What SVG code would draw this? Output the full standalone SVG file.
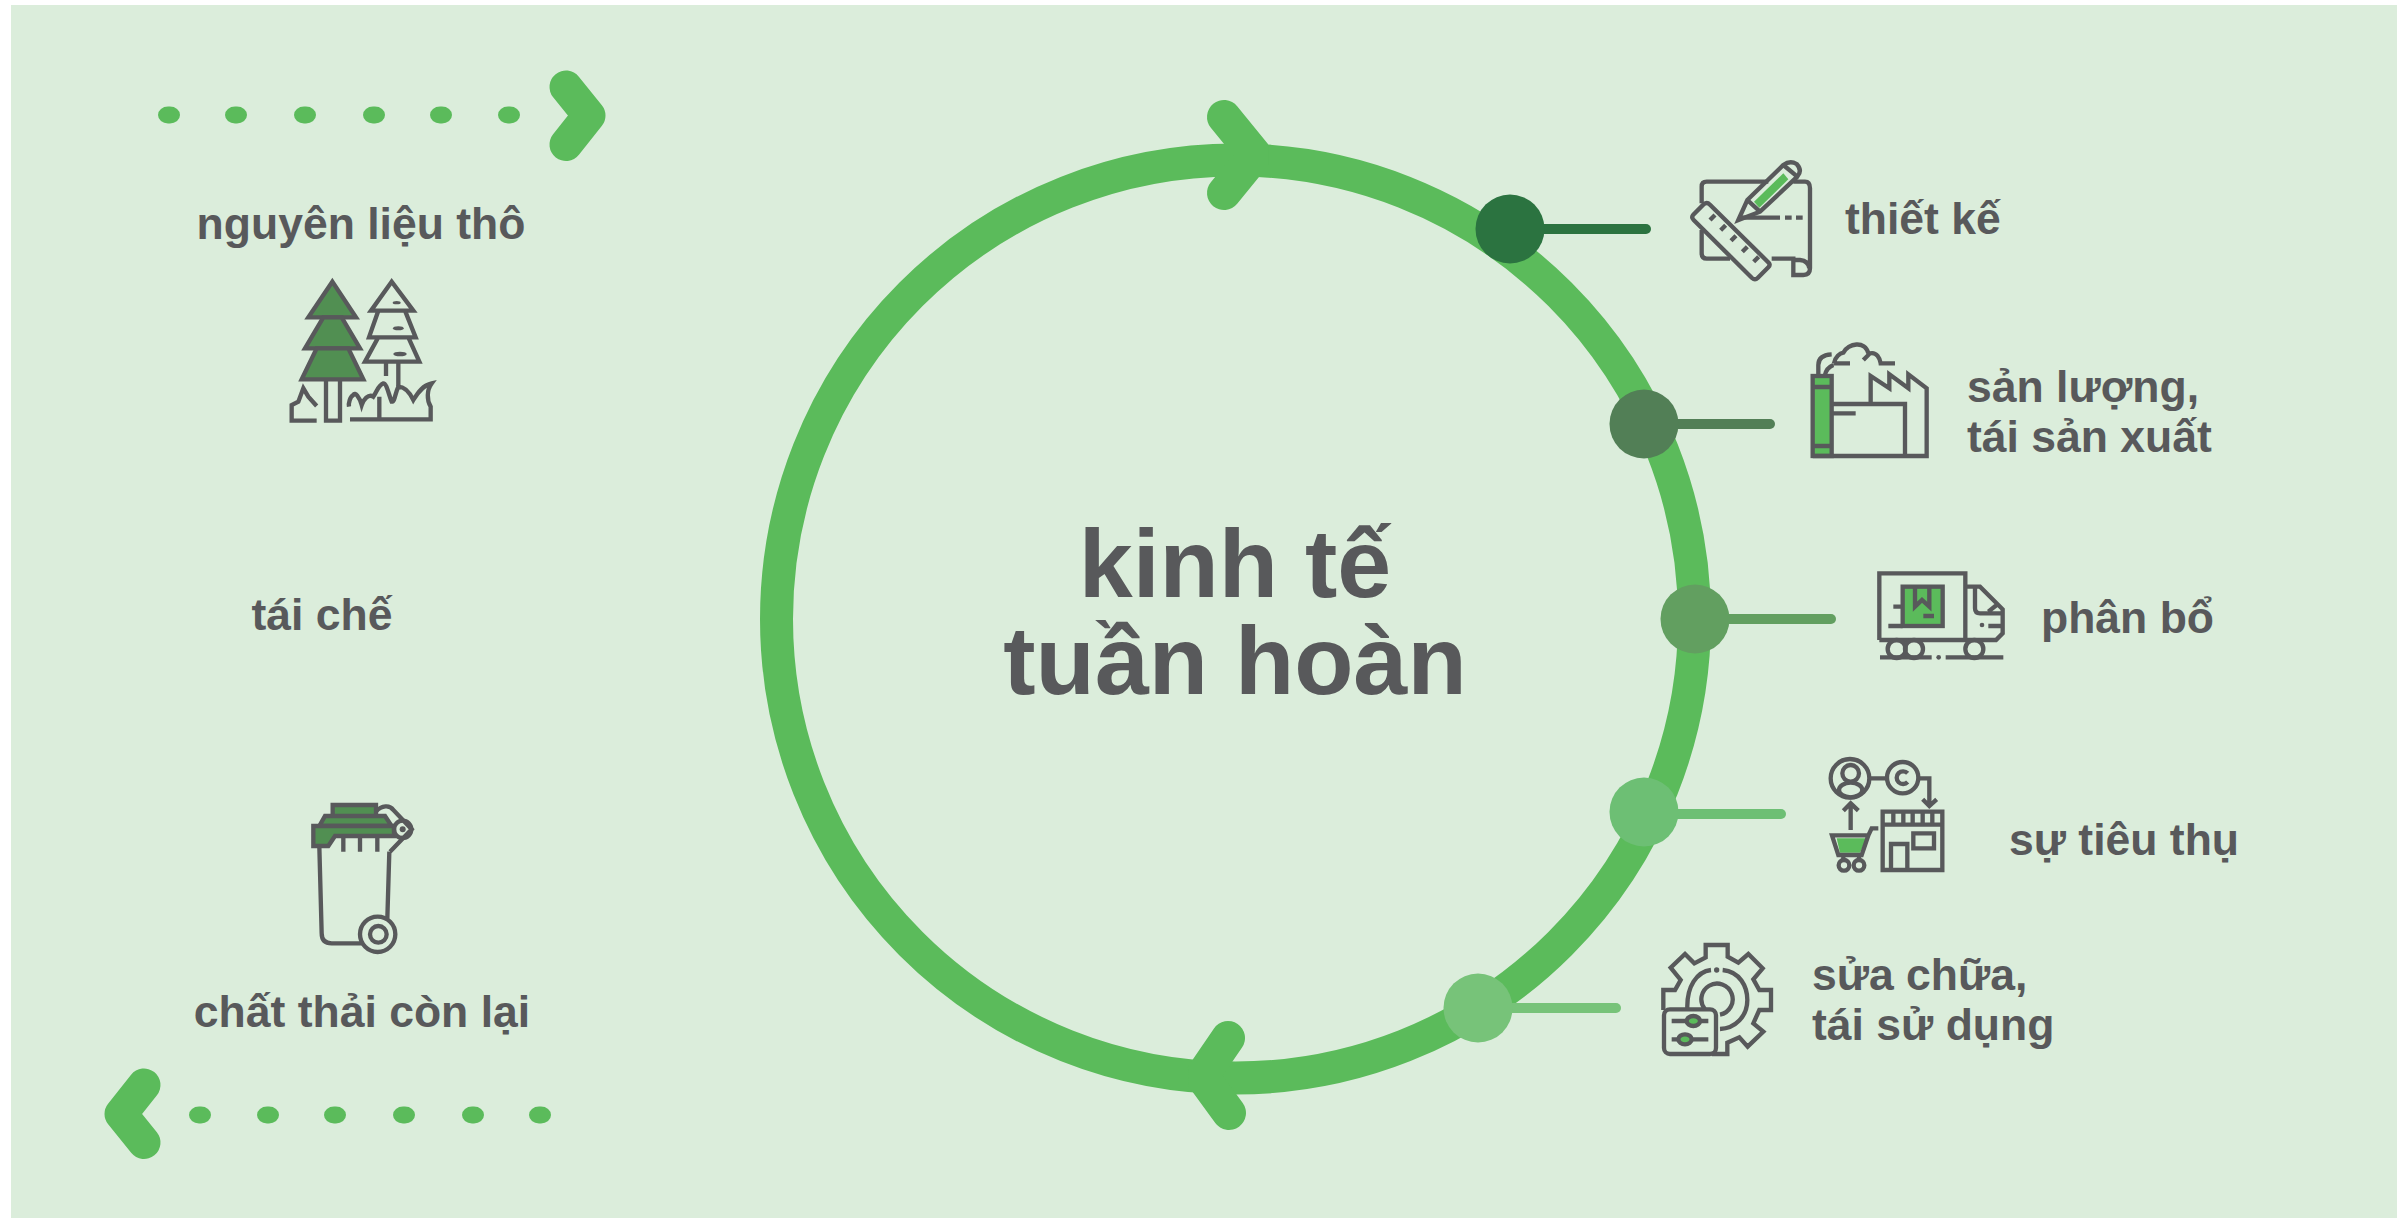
<svg xmlns="http://www.w3.org/2000/svg" width="2397" height="1218" viewBox="0 0 2397 1218">
<style>
.t{font-family:"Liberation Sans",Arial,sans-serif;font-weight:700;fill:#58595b;font-size:44.500px}
.title{font-size:97px}
.m{text-anchor:middle}
.ic{fill:none;stroke:#58595b;stroke-width:13}
.g{fill:#5bbb5b}
.dg{fill:#518f52}
.dot{fill:#5bbb5b}
.ch{fill:none;stroke:#5bbb5b;stroke-width:33;stroke-linecap:round;stroke-linejoin:round}
.hd{fill:none;stroke:#5bbb5b;stroke-width:34;stroke-linecap:round;stroke-linejoin:bevel}
.leader{stroke-width:10;stroke-linecap:round}
</style>
<rect x="11" y="5" width="2386" height="1213" fill="#dbeddb"/>

<g id="connectors">
<circle cx="1235.5" cy="619" r="459" fill="none" stroke="#5bbb5b" stroke-width="33"/>
<polyline class="hd" points="1224,117 1255,155 1224,193"/>
<polyline class="hd" points="1228,1038 1202,1076 1229,1113"/>
<line class="leader" x1="1510" y1="229" x2="1646" y2="229" stroke="#2b7340"/>
<line class="leader" x1="1644" y1="424" x2="1770" y2="424" stroke="#527f56"/>
<line class="leader" x1="1695" y1="619" x2="1831" y2="619" stroke="#629f60"/>
<line class="leader" x1="1644" y1="814" x2="1781" y2="814" stroke="#6dbf74"/>
<line class="leader" x1="1478" y1="1008" x2="1616" y2="1008" stroke="#77c379"/>
</g>

<g id="arrow-top">
<rect class="dot" x="158" y="106.500" width="22" height="17" rx="10" ry="8.500"/><rect class="dot" x="225" y="106.500" width="22" height="17" rx="10" ry="8.500"/><rect class="dot" x="294" y="106.500" width="22" height="17" rx="10" ry="8.500"/><rect class="dot" x="363" y="106.500" width="22" height="17" rx="10" ry="8.500"/><rect class="dot" x="430" y="106.500" width="22" height="17" rx="10" ry="8.500"/><rect class="dot" x="498" y="106.500" width="22" height="17" rx="10" ry="8.500"/>
<polyline class="ch" points="566,87 589,115.500 566,144.500"/>
</g>
<g id="arrow-bottom">
<rect class="dot" x="189" y="1106.500" width="22" height="17" rx="10" ry="8.500"/><rect class="dot" x="257" y="1106.500" width="22" height="17" rx="10" ry="8.500"/><rect class="dot" x="324" y="1106.500" width="22" height="17" rx="10" ry="8.500"/><rect class="dot" x="393" y="1106.500" width="22" height="17" rx="10" ry="8.500"/><rect class="dot" x="462" y="1106.500" width="22" height="17" rx="10" ry="8.500"/><rect class="dot" x="529" y="1106.500" width="22" height="17" rx="10" ry="8.500"/>
<polyline class="ch" points="144,1085 121,1114 144,1142.500"/>
</g>

<g id="node-title"><text class="t title m" x="1235" y="597">kinh tế</text><text class="t title m" x="1235" y="694">tuần hoàn</text></g>
<g id="node-raw"><text class="t m" x="361" y="239">nguyên liệu thô</text>
<g transform="translate(270,260) scale(.33333)">
<path class="ic dg" d="M187 65L115 172H258Z"/><path class="ic dg" d="M160 172L105 265H270L215 172Z"/><path class="ic dg" d="M140 265L95 358H280L235 265Z"/>
<path class="ic" d="M168 358V482H210V358"/>
<path class="ic" d="M365 65L303 152H430ZM325 152L297 232H437L405 152M325 232L285 305H448L415 232M348 305V348M385 305V378"/>
<ellipse cx="380" cy="128" rx="12" ry="5" fill="#58595b"/><ellipse cx="385" cy="205" rx="16" ry="6" fill="#58595b"/><ellipse cx="390" cy="282" rx="20" ry="7" fill="#58595b"/>
<path class="ic" d="M140 482H65V435L85 425L100 385L115 410L140 438"/>
<path class="ic" d="M240 478H482V440C470 420 470 390 485 370C460 375 445 395 430 420C420 400 405 380 385 380C375 400 375 425 365 425C355 400 350 370 340 370C325 375 320 395 310 410C295 400 280 420 275 435C268 410 255 395 250 405C240 410 235 430 237 440M328 410V472"/>
</g></g>
<g id="node-recycle"><text class="t m" x="322" y="630">tái chế</text></g>
<g id="node-waste"><text class="t m" x="362" y="1027">chất thải còn lại</text>
<g transform="translate(290,790) scale(.33333)">
<path class="ic dg" d="M128 78V45H258V78"/><path class="ic dg" d="M88 108L105 78H285L305 108Z"/><path class="ic dg" d="M70 108H312V138H135L115 168H70Z"/>
<path class="ic" d="M88 170L95 430Q95 460 125 460H215M298 185L292 385M160 140V185M210 140V185M262 140V185"/>
<circle class="ic" cx="263" cy="433" r="53"/><circle class="ic" cx="265" cy="433" r="25"/>
<path class="ic" d="M258 65C275 45 300 45 310 60L365 118L300 185"/>
<circle class="ic" cx="338" cy="118" r="26"/><circle cx="338" cy="118" r="9" fill="#58595b"/>
</g></g>

<g id="node-design"><circle cx="1510" cy="229" r="34.500" fill="#2b7340"/><text class="t" x="1845" y="234">thiết kế</text>
<g transform="translate(1660,140) scale(.33333)">
<path class="ic" d="M125 190V140Q125 125 140 125H325M400 125H435Q450 125 450 145V385Q450 405 430 405H400V356H335M210 356H140Q125 356 125 340V270M400 360H420Q445 362 448 385"/>
<path class="ic" d="M132 192Q141 185 150 194L326 368Q332 375 325 382L293 414Q285 422 276 414L101 240Q93 232 100 224ZM165 225L150 240M197 256L182 271M228 287L213 302M262 320L247 335M296 350L281 365"/>
<path class="g" d="M282 185L370 100L385 118L298 203Z"/>
<path class="ic" d="M235 240L262 180L370 75Q390 60 410 72Q428 92 412 110L300 215ZM262 180L300 215M370 75L412 110"/>
<path class="ic" d="M240 233H360M375 233H395M408 233H428"/>
</g></g>

<g id="node-production"><circle cx="1644" cy="424" r="34.500" fill="#527f56"/><text class="t" x="1967" y="402">sản lượng,</text><text class="t" x="1967" y="452">tái sản xuất</text>
<g transform="translate(1790,320) scale(.33333)">
<rect class="g ic" x="68" y="168" width="57" height="240" style="fill:#5bbb5b"/>
<path class="ic" d="M68 201H125M68 378H125M125 252H345V408M68 408H410V205L355 163V205L298 163V205L242 168V252M125 280H197"/>
<path class="ic" d="M85 165V135Q85 105 125 103M105 165C108 150 118 140 130 135M130 130H180M132 130C135 110 150 100 160 98C175 70 225 60 235 100M220 120L240 100C260 95 270 115 272 130H315"/>
</g></g>

<g id="node-distribution"><circle cx="1695" cy="619" r="34.500" fill="#629f60"/><text class="t" x="2041" y="633">phân bổ</text>
<g transform="translate(1860,550) scale(.33333)">
<path class="ic" d="M58 270V70H316V270M58 270H408L428 250V178L360 110H316M345 110V175Q345 190 360 190H428M385 185L410 165M385 228H430"/>
<circle cx="366" cy="225" r="7" fill="#58595b"/>
<rect class="ic" x="128" y="110" width="120" height="118" style="fill:#5bbb5b"/>
<path class="ic" d="M165 110V170L186 150L208 170V110M190 198H222M100 170H128M85 228H128M60 322H215M257 322H430"/>
<circle class="ic" cx="110" cy="297" r="27"/><circle class="ic" cx="162" cy="297" r="27"/><circle class="ic" cx="343" cy="297" r="27"/>
<circle cx="236" cy="322" r="7" fill="#58595b"/>
</g></g>

<g id="node-consumption"><circle cx="1644" cy="812" r="34.500" fill="#6dbf74"/><text class="t" x="2009" y="855">sự tiêu thụ</text>
<g transform="translate(1810,740) scale(.33333)">
<circle class="ic" cx="120" cy="115" r="58"/><circle class="ic" cx="122" cy="100" r="25"/><ellipse class="ic" cx="122" cy="150" rx="35" ry="22"/>
<path class="ic" d="M178 115H232M325 115H358V195M338 178L358 198L380 178M122 270V190M100 212L122 190L145 212"/>
<circle class="ic" cx="278" cy="113" r="47"/>
<path class="ic" d="M293 100A19 19 0 1 0 293 126"/>
<path class="g" d="M80 295H170L150 338H90Z"/>
<path class="ic" d="M66 286H175L155 345H85ZM175 286L185 265H205M100 345V360M147 345V360"/>
<circle class="ic" cx="102" cy="376" r="16"/><circle class="ic" cx="147" cy="376" r="16"/>
<path class="ic" d="M218 215H397V390H218ZM218 254H397M250 215V254M280 215V254M308 215V254M338 215V254M367 215V254M243 390V312H292V390M310 280H372V325H310Z"/>
</g></g>

<g id="node-repair"><circle cx="1478" cy="1008" r="34.500" fill="#77c379"/><text class="t" x="1812" y="990">sửa chữa,</text><text class="t" x="1812" y="1040">tái sử dụng</text>
<g transform="translate(1640,930) scale(.33333)">
<path class="ic" d="M70 240V180H105L122 150L92 113L135 72L163 100L197 82V45H263V80L295 98L325 72L368 115L340 148L358 180H393V240H358L340 280L370 305L323 350L298 322L262 338V372H215"/>
<path class="ic" d="M142 235C140 170 170 125 213 120M248 120C300 125 322 170 322 210C322 260 285 295 240 297M195 238A47 47 0 1 1 240 254"/>
<circle cx="230" cy="120" r="8" fill="#58595b"/>
<rect class="ic" x="72" y="238" width="156" height="134" rx="18"/>
<path class="ic" d="M95 273H205M95 328H205"/>
<ellipse class="ic" cx="160" cy="273" rx="20" ry="15" style="fill:#5bbb5b"/><ellipse class="ic" cx="135" cy="328" rx="20" ry="15" style="fill:#5bbb5b"/>
</g></g>
</svg>
